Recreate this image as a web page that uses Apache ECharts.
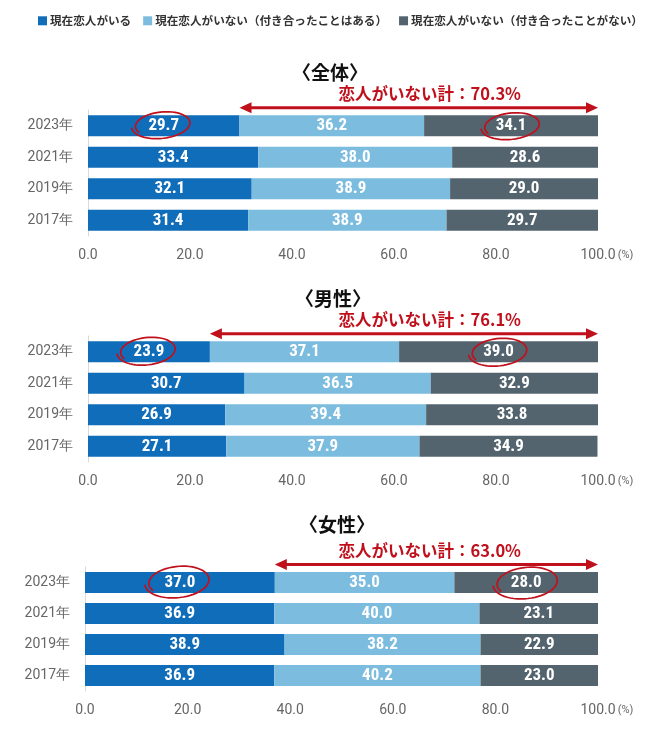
<!DOCTYPE html>
<html>
<head>
<meta charset="utf-8">
<script src="https://cdn.jsdelivr.net/npm/echarts@6/dist/echarts.min.js"></script>
<style>
html,body{margin:0;padding:0;background:#fff;}
#chart{width:660px;height:736px;}
</style>
</head>
<body>
<div id="chart"></div>
<script>
// ---- data ----
const categories = ['2023年', '2021年', '2019年', '2017年'];
const panelTitles = ['〈全体〉', '〈男性〉', '〈女性〉'];
const seriesNames = ['現在恋人がいる', '現在恋人がいない（付き合ったことはある）', '現在恋人がいない（付き合ったことがない）'];
const annotationLabel = '恋人がいない計：';
const xTickValues = [0, 20, 40, 60, 80, 100];

const allHas   = [29.7, 33.4, 32.1, 31.4];
const allHad   = [36.2, 38.0, 38.9, 38.9];
const allNever = [34.1, 28.6, 29.0, 29.7];

const maleHas   = [23.9, 30.7, 26.9, 27.1];
const maleHad   = [37.1, 36.5, 39.4, 37.9];
const maleNever = [39.0, 32.9, 33.8, 34.9];

const femaleHas   = [37.0, 36.9, 38.9, 36.9];
const femaleHad   = [35.0, 40.0, 38.2, 40.2];
const femaleNever = [28.0, 23.1, 22.9, 23.0];

const panels = [
  [allHas, allHad, allNever],
  [maleHas, maleHad, maleNever],
  [femaleHas, femaleHad, femaleNever]
];

// ---- style ----
const colors = ['#106db9', '#7bbcdf', '#53646f'];
const red = '#c0101c';
const cjk = "'Noto Sans CJK JP', 'Noto Sans', sans-serif";
const numFont = "'Liberation Sans Narrow', 'Roboto Condensed', Roboto, sans-serif";
const axisFont = "Roboto, 'Noto Sans', sans-serif";

const grids = [
  { left: 88, right: 62, top: 110, height: 126 },
  { left: 88, right: 62, top: 336, height: 126 },
  { left: 85, right: 62, top: 567, height: 124 }
];
const titlePos = [[325, 58], [328, 284], [332, 510]];
const ellipseSize = [[29, 13.5], [29, 14], [32, 16]];

const chart = echarts.init(document.getElementById('chart'), null, { renderer: 'canvas' });

const xAxes = grids.map((g, i) => ({
  type: 'value', gridIndex: i, min: 0, max: 100, interval: 20,
  axisLine: { show: false }, axisTick: { show: false }, splitLine: { show: false },
  axisLabel: {
    margin: 12, color: '#666', fontSize: 14, fontFamily: axisFont,
    formatter: v => v === 100 ? '{p|}{a|100.0}{b|(%)}' : v.toFixed(1),
    rich: {
      p: { width: 20 },
      a: { color: '#666', fontSize: 14, fontFamily: axisFont },
      b: { color: '#666', fontSize: 11, fontFamily: axisFont, width: 20, align: 'left' }
    }
  }
}));
const yAxes = grids.map((g, i) => ({
  type: 'category', gridIndex: i, data: categories, inverse: true,
  axisLine: { show: true, lineStyle: { color: '#d9d9d9', width: 1 } },
  axisTick: { show: false },
  axisLabel: { margin: 15, color: '#666', fontSize: 14, fontFamily: axisFont }
}));

function handEllipse(cx, cy, rx, ry) {
  const pts = [];
  const rot = -0.1;
  const t0 = Math.PI * 0.85;
  const total = Math.PI * 2.15;
  const n = 60;
  for (let k = 0; k <= n; k++) {
    const t = total * k / n;
    const f = 0.9 + 0.14 * (k / n);
    const ang = t0 + t;
    const ex = rx * f * Math.cos(ang);
    const ey = ry * f * Math.sin(ang);
    pts.push([cx + ex * Math.cos(rot) - ey * Math.sin(rot), cy + ex * Math.sin(rot) + ey * Math.cos(rot)]);
  }
  return { type: 'polyline', shape: { points: pts }, style: { stroke: red, lineWidth: 1.7, fill: null } };
}

const series = [];
panels.forEach((vals, pi) => {
  vals.forEach((arr, si) => {
    series.push({
      type: 'bar', name: seriesNames[si], stack: 'p' + pi,
      xAxisIndex: pi, yAxisIndex: pi, barWidth: 21,
      itemStyle: { color: colors[si] },
      label: {
        show: true, position: 'inside', color: '#fff', fontWeight: 'bold',
        fontSize: 17, fontFamily: numFont,
        formatter: p => p.value.toFixed(1)
      },
      emphasis: { disabled: true },
      data: arr
    });
  });
  const has = vals[0][0], had = vals[1][0], never = vals[2][0];
  const es = ellipseSize[pi];
  series.push({
    type: 'custom', xAxisIndex: pi, yAxisIndex: pi, silent: true, z: 10,
    data: [[has, 0, had, never]],
    renderItem: (params, api) => {
      const hasV = api.value(0), idx = api.value(1), hadV = api.value(2), neverV = api.value(3);
      const s = api.coord([hasV, idx]);
      const e = api.coord([xTickValues[xTickValues.length - 1], idx]);
      const ay = s[1] - 18;
      const c1 = api.coord([hasV / 2, idx]);
      const c3 = api.coord([100 - neverV / 2, idx]);
      const total = (hadV + neverV).toFixed(1);
      return {
        type: 'group',
        children: [
          { type: 'line', shape: { x1: s[0] + 8, y1: ay, x2: e[0] - 8, y2: ay }, style: { stroke: red, lineWidth: 3 } },
          { type: 'polygon', shape: { points: [[s[0], ay], [s[0] + 12, ay - 5.5], [s[0] + 12, ay + 5.5]] }, style: { fill: red } },
          { type: 'polygon', shape: { points: [[e[0], ay], [e[0] - 12, ay - 5.5], [e[0] - 12, ay + 5.5]] }, style: { fill: red } },
          { type: 'text', x: e[0] - 77, y: ay - 14, style: { text: annotationLabel + total + '%', align: 'right', verticalAlign: 'middle', fill: red, font: "bold 16.5px " + cjk } },
          handEllipse(c1[0] - 2, c1[1] - 1, es[0], es[1]),
          handEllipse(c3[0], c3[1], es[0], es[1])
        ]
      };
    }
  });
});

const option = {
  animation: false,
  backgroundColor: '#fff',
  title: panelTitles.map((t, i) => ({
    text: t, left: titlePos[i][0], top: titlePos[i][1], textAlign: 'center',
    textStyle: { fontSize: 19, fontWeight: 'bold', color: '#111', fontFamily: cjk }
  })),
  legend: {
    left: 33, top: 10, icon: 'rect', itemWidth: 9, itemHeight: 9, itemGap: 12,
    selectedMode: false,
    textStyle: { fontSize: 11.6, fontWeight: 'bold', color: '#333', fontFamily: cjk, padding: [0, 0, 0, -2] },
    data: seriesNames
  },
  grid: grids,
  xAxis: xAxes,
  yAxis: yAxes,
  series: series
};
chart.setOption(option);
</script>
</body>
</html>
